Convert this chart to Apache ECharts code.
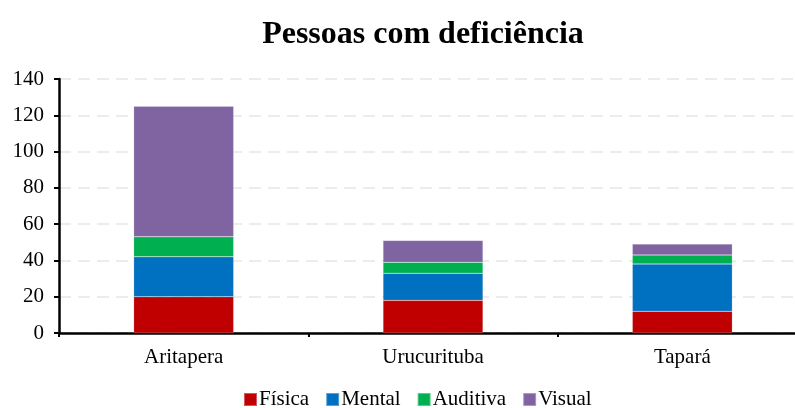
<!DOCTYPE html>
<html>
<head>
<meta charset="utf-8">
<script src="https://cdn.jsdelivr.net/npm/echarts@6/dist/echarts.min.js"></script>
<style>
  html, body { margin: 0; padding: 0; background: #fff; overflow: hidden; }
  #main { width: 810px; height: 408px; }
</style>
</head>
<body>
<div id="main"></div>
<script>
// dados
var categorias = ['Aritapera', 'Urucurituba', 'Tapará'];
var fisica   = [20, 18, 12];
var mental   = [22, 15, 26];
var auditiva = [11, 6, 5];
var visual   = [72, 12, 6];
var yTicks   = [0, 20, 40, 60, 80, 100, 120, 140];

var fonte = 'Liberation Serif, Times New Roman, serif';

var myChart = echarts.init(document.getElementById('main'));

function serie(nome, dados, cor){
	return {
		name: nome,
		type: 'bar',
		stack: 'total',
		barWidth: 100,
		data: dados,
		itemStyle: { color: cor, borderColor: 'rgba(255,255,255,0.35)', borderWidth: 0.5 }
	};
}

var option = {
	animation: false,
	title: {
		text: 'Pessoas com deficiência',
		left: 418,
		textAlign: 'center',
		top: 14,
		textStyle: { fontFamily: fonte, fontWeight: 'bold', fontSize: 32, color: '#000' }
	},
	legend: {
		top: 389,
		left: 243,
		padding: 0,
		itemWidth: 13,
		itemHeight: 13,
		itemGap: 16,
		icon: 'rect',
		textStyle: { fontFamily: fonte, fontSize: 21, color: '#000', padding: [0, 0, 0, -3] }
	},
	grid: { left: 59, top: 79, width: 748, height: 254, containLabel: false },
	xAxis: {
		type: 'category',
		data: categorias,
		axisLine: { lineStyle: { color: '#000', width: 2.5 } },
		axisTick: { show: true, length: 4, lineStyle: { color: '#000', width: 2 } },
		axisLabel: { fontFamily: fonte, fontSize: 21, color: '#000', margin: 14 }
	},
	yAxis: {
		type: 'value',
		min: yTicks[0],
		max: yTicks[yTicks.length - 1],
		interval: 20,
		axisLine: { show: true, lineStyle: { color: '#000', width: 2.5 } },
		axisTick: { show: true, length: 5, lineStyle: { color: '#000', width: 2 } },
		axisLabel: { fontFamily: fonte, fontSize: 21, color: '#000', margin: 15 },
		splitLine: { show: true, lineStyle: { color: '#e6e6e6', type: [12, 7], width: 1.5 } }
	},
	series: [
		serie('Física', fisica, '#c00000'),
		serie('Mental', mental, '#0070c0'),
		serie('Auditiva', auditiva, '#00b050'),
		serie('Visual', visual, '#8064a2')
	]
};

myChart.setOption(option);
</script>
</body>
</html>
